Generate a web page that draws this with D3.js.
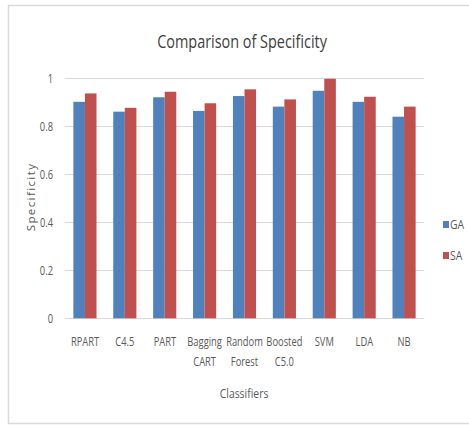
<!DOCTYPE html>
<html>
<head>
<meta charset="utf-8">
<script src="https://cdn.jsdelivr.net/npm/d3@7"></script>
<style>
  html, body { margin: 0; padding: 0; background: #fff; }
  svg { display: block; }
  text { font-family: "Open Sans", "DejaVu Sans", sans-serif; fill: #595959; }
</style>
</head>
<body>
<svg id="chart" width="469" height="425"></svg>
<script>
// Specificity of each classifier under GA and SA feature selection
const classifiers = [["RPART"], ["C4.5"], ["PART"], ["Bagging", "CART"], ["Random", "Forest"],
                     ["Boosted", "C5.0"], ["SVM"], ["LDA"], ["NB"]];
const seriesNames = ["GA", "SA"];
const gaValues = [0.902, 0.861, 0.921, 0.864, 0.926, 0.882, 0.948, 0.902, 0.840];
const saValues = [0.937, 0.877, 0.944, 0.896, 0.954, 0.912, 0.998, 0.923, 0.882];
const yTicks = [0, 0.2, 0.4, 0.6, 0.8, 1];
const colors = ["#4F81BD", "#C0504D"];

// narrow the glyphs horizontally, anchored on the given side of each text box
function squeeze(sel, k, origin) {
  sel.style("transform-box", "fill-box")
     .style("transform-origin", origin)
     .style("transform", `scaleX(${k})`);
}

const svg = d3.select("#chart");

// outer chart frame
svg.append("rect")
  .attr("x", 8.5).attr("y", 5.5).attr("width", 470).attr("height", 418)
  .attr("fill", "none").attr("stroke", "#d9d9d9").attr("stroke-width", 1.5);

const plot = { left: 65, right: 424, top: 78.3, bottom: 318.3 };

const x = d3.scaleBand()
  .domain(d3.range(classifiers.length))
  .range([plot.left, plot.right])
  .paddingInner(0.42).paddingOuter(0.21);

const xs = d3.scaleBand().domain(seriesNames).range([0, x.bandwidth()]);

const y = d3.scaleLinear().domain([0, 1]).range([plot.bottom, plot.top]);

// horizontal gridlines
svg.append("g").selectAll("line").data(yTicks).join("line")
  .attr("x1", plot.left).attr("x2", plot.right)
  .attr("y1", d => Math.round(y(d)) + 0.5).attr("y2", d => Math.round(y(d)) + 0.5)
  .attr("stroke", "#d9d9d9").attr("stroke-width", 1.2);

// y axis tick labels
const yAxis = d3.axisLeft(y).tickValues(yTicks).tickSize(0).tickPadding(12)
  .tickFormat(d => d === 0 || d === 1 ? String(d) : d.toFixed(1));
svg.append("g").attr("transform", `translate(${plot.left},0)`).call(yAxis)
  .call(g => g.select(".domain").remove())
  .call(g => g.selectAll("text").style("font-size", "13px").attr("fill", "#595959")
    .style("font-family", "'Open Sans', sans-serif").call(squeeze, 0.72, "right"));

// bars
const series = [gaValues, saValues];
series.forEach((vals, si) => {
  svg.append("g").selectAll("rect").data(vals).join("rect")
    .attr("x", (d, i) => x(i) + xs(seriesNames[si]))
    .attr("width", xs.bandwidth())
    .attr("y", d => y(d))
    .attr("height", d => y(0) - y(d))
    .attr("fill", colors[si]);
});

// category labels (may wrap onto two lines)
const xAxis = d3.axisBottom(x).tickSize(0).tickFormat(() => "");
const xg = svg.append("g").attr("transform", `translate(0,${plot.bottom})`).call(xAxis);
xg.select(".domain").remove();
xg.selectAll(".tick").each(function(i) {
  const t = d3.select(this).append("text")
    .attr("text-anchor", "middle").style("font-size", "13px").attr("fill", "#595959");
  classifiers[i].forEach((line, k) => {
    t.append("tspan").attr("x", 0).attr("y", 28 + k * 20).text(line);
  });
  squeeze(t, 0.72, "center");
});

// title
svg.append("text")
  .attr("x", 242).attr("y", 48).attr("text-anchor", "middle")
  .style("font-size", "19px").style("fill", "#404040")
  .text("Comparison of Specificity")
  .call(squeeze, 0.76, "center");

// axis titles
svg.append("g").attr("transform", "translate(35,197) rotate(-90)")
  .append("text")
  .attr("text-anchor", "middle").style("font-size", "11.5px")
  .style("letter-spacing", "1.4px")
  .text("Specificity");

svg.append("text")
  .attr("x", 244).attr("y", 398).attr("text-anchor", "middle")
  .style("font-size", "13px")
  .text("Classifiers")
  .call(squeeze, 0.8, "center");

// legend
const legend = svg.append("g").selectAll("g").data(seriesNames).join("g")
  .attr("transform", (d, i) => `translate(443,${221 + i * 31})`);
legend.append("rect").attr("width", 6).attr("height", 7).attr("fill", (d, i) => colors[i]);
legend.append("text").attr("x", 7).attr("y", 8).style("font-size", "13px").text(d => d)
  .call(squeeze, 0.8, "left");
</script>
</body>
</html>
